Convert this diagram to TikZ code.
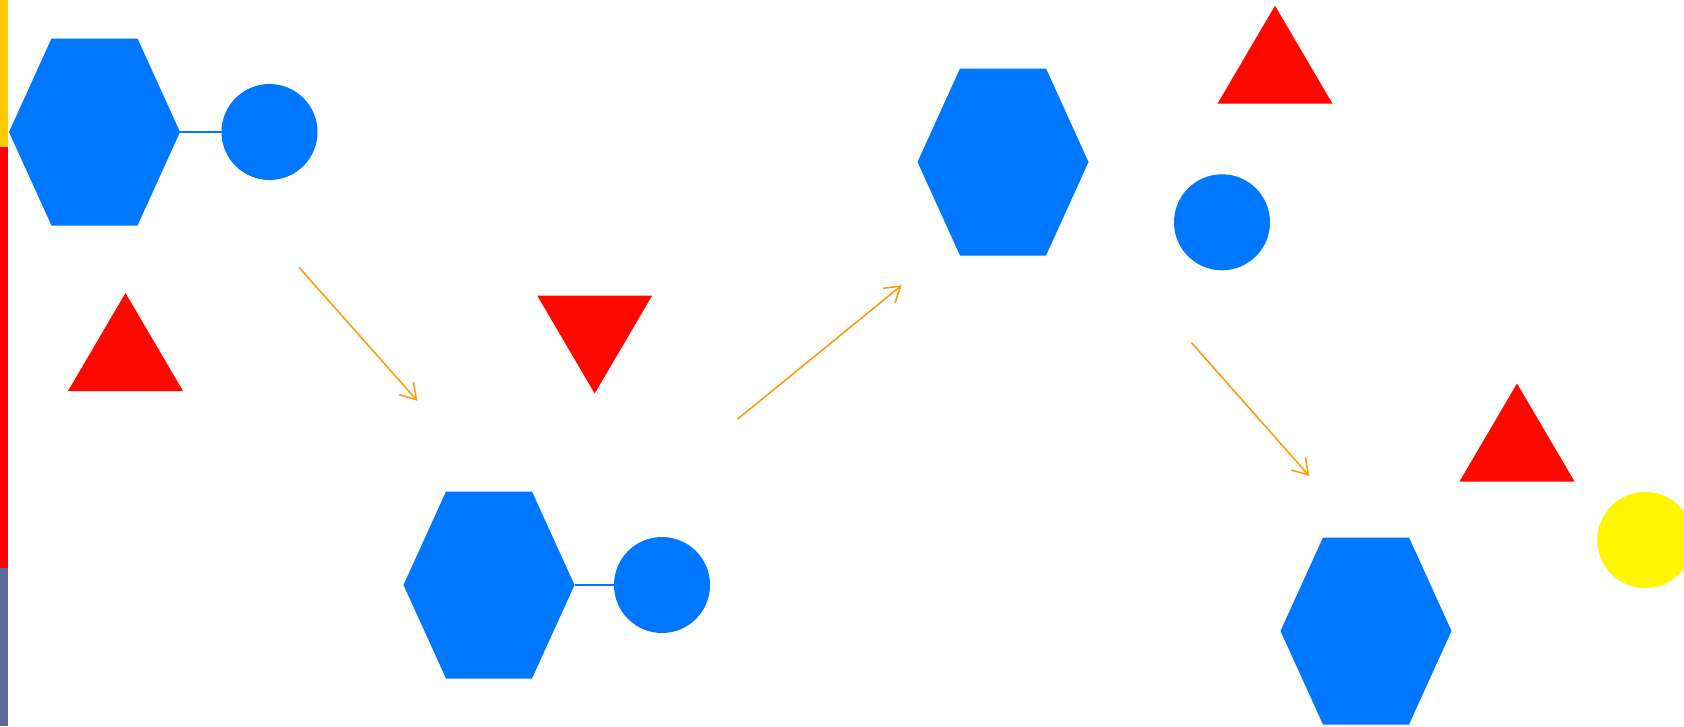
\documentclass[tikz,border=0pt]{standalone}
\usetikzlibrary{arrows.meta}

\definecolor{shapeblue}{RGB}{0,119,255}
\definecolor{shapered}{RGB}{255,8,0}
\definecolor{flowarrow}{RGB}{255,153,0}
\definecolor{barGold}{RGB}{255,200,0}
\definecolor{barRed}{RGB}{255,0,0}
\definecolor{barSlate}{RGB}{91,107,155}
\definecolor{sunYellow}{RGB}{255,245,0}
\definecolor{paper}{RGB}{254,254,254}

\tikzset{
  ball/.style={circle, fill=shapeblue, minimum size=96pt, inner sep=0pt, outer sep=0pt},
  sunball/.style={ball, fill=sunYellow},
  link/.style={draw=shapeblue, line width=1.6pt},
  flow/.style={draw=flowarrow, line width=1.5pt,
    -{Straight Barb[length=15pt,width=19pt]}},
  % stretched hexagon, flat top and bottom
  hexagon/.pic={
    \fill[shapeblue] (-85.5,0) -- (-43,93.5) -- (43,93.5) -- (85.5,0)
      -- (43,-93.5) -- (-43,-93.5) -- cycle;
    \coordinate (-east) at (85.5,0);
  },
  uptri/.pic={
    \fill[shapered] (0,-49) -- (57.5,49) -- (-57.5,49) -- cycle;
  },
  downtri/.pic={
    \fill[shapered] (0,49) -- (57.5,-49) -- (-57.5,-49) -- cycle;
  },
}

\begin{document}
\begin{tikzpicture}[x=1pt, y=-1pt]
  \useasboundingbox (0,0) rectangle (1684,726);
  \clip (0,0) rectangle (1684,726);
  \fill[paper] (0,0) rectangle (1684,726);

  % coloured strip on the left edge
  \fill[barGold]  (0,0)   rectangle (8,147);
  \fill[barRed]   (0,147) rectangle (8,568);
  \fill[barSlate] (0,568) rectangle (8,726);

  % hexagons
  \pic (h1) at (94.5,132) {hexagon};
  \pic (h2) at (489,585) {hexagon};
  \pic (h3) at (1003,162) {hexagon};
  \pic (h4) at (1366,631) {hexagon};

  % triangles
  \pic (t1) at (125.5,342) {uptri};
  \pic (t2) at (594.7,344.5) {downtri};
  \pic (t3) at (1275,54.7) {uptri};
  \pic (t4) at (1517,432.5) {uptri};

  % circles
  \node[ball] (c1) at (269.5,132) {};
  \node[ball] (c2) at (662,585) {};
  \node[ball] (c3) at (1222,222.3) {};
  \node[sunball] (c4) at (1645.3,540) {};

  % hexagon-to-circle links
  \draw[link] (h1-east) -- (c1.west);
  \draw[link] (h2-east) -- (c2.west);

  % flow arrows
  \coordinate (a1s) at (299,267.3);
  \coordinate (a1e) at (417.3,400.7);
  \coordinate (a2s) at (737.7,419);
  \coordinate (a2e) at (901.7,285.3);
  \coordinate (a3s) at (1191.5,342.7);
  \coordinate (a3e) at (1309.3,476);
  \draw[flow] (a1s) -- (a1e);
  \draw[flow] (a2s) -- (a2e);
  \draw[flow] (a3s) -- (a3e);
\end{tikzpicture}
\end{document}
